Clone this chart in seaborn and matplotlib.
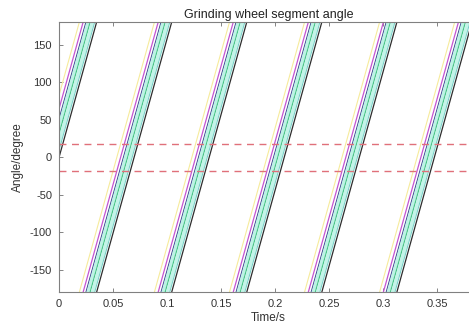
import numpy as np
import pandas as pd
import seaborn as sns
from matplotlib import pyplot as plt

# rotation period of the wheel (s) and the times the black trace crosses 0 deg
period = 0.0695
black_zero_cross = [0.0, 0.0695, 0.139, 0.2085, 0.278, 0.3475]
t_end = 0.388

# each trace leads the black one by this much time (s)
trace_names = ["yellow", "magenta", "navy", "cyan_a", "green", "cyan_b", "teal", "black"]
trace_lead = [0.0160, 0.0125, 0.0098, 0.0080, 0.0060, 0.0038, 0.0018, 0.0]
trace_colors = ["#f6eb9c", "#c455d2", "#3a3a8c", "#bdf3e5", "#49c487", "#c3f4e8", "#70ccc4", "#2d2d2d"]
trace_width = [0.8, 0.9, 0.9, 2.4, 0.9, 2.4, 0.7, 0.9]

limit_lines = [18, -18]

rows = []
seg = 0
for name, lead in zip(trace_names, trace_lead):
    for c in black_zero_cross:
        t0 = c - lead - period / 2
        t1 = c - lead + period / 2
        a1 = 180.0
        if t1 > t_end:
            a1 = -180 + 360 * (t_end - t0) / period
            t1 = t_end
        rows.append((name, seg, t0, -180.0))
        rows.append((name, seg, t1, a1))
        seg += 1
df = pd.DataFrame(rows, columns=["trace", "seg", "t", "angle"])

sns.set_style("white")
plt.rcParams["font.family"] = ["Liberation Sans", "DejaVu Sans"]
plt.rcParams["axes.unicode_minus"] = False

fig = plt.figure(figsize=(4.69, 3.36), dpi=100)
ax = fig.add_axes([0.1258, 0.1295, 0.8935, 0.8036])

palette = dict(zip(trace_names, trace_colors))
for name, lw in zip(trace_names, trace_width):
    sns.lineplot(data=df[df.trace == name], x="t", y="angle", units="seg", estimator=None,
                 sort=False, color=palette[name], linewidth=lw, ax=ax, legend=False)

for y in limit_lines:
    ax.axhline(y, color="#e0707a", linewidth=1.0, dashes=(5, 4))

ax.set_xlim(0, 0.388)
ax.set_ylim(-180, 180)
ax.set_xticks([0, 0.05, 0.1, 0.15, 0.2, 0.25, 0.3, 0.35])
ax.set_xticklabels(["0", "0.05", "0.1", "0.15", "0.2", "0.25", "0.3", "0.35"])
ax.set_yticks([-150, -100, -50, 0, 50, 100, 150])
ax.tick_params(direction="in", length=3, width=0.6, color="#707070", labelsize=8,
               labelcolor="#333333", top=True, right=True, bottom=True, left=True, pad=5)
for s in ax.spines.values():
    s.set_color("#808080")
    s.set_linewidth(0.8)

ax.set_xlabel("Time/s", fontsize=8.5, color="#333333", labelpad=2)
ax.set_ylabel("Angle/degree", fontsize=8.5, color="#333333", labelpad=4)
ax.set_title("Grinding wheel segment angle", fontsize=9, color="#222222", pad=3)

fig.savefig("out.png", dpi=100)
